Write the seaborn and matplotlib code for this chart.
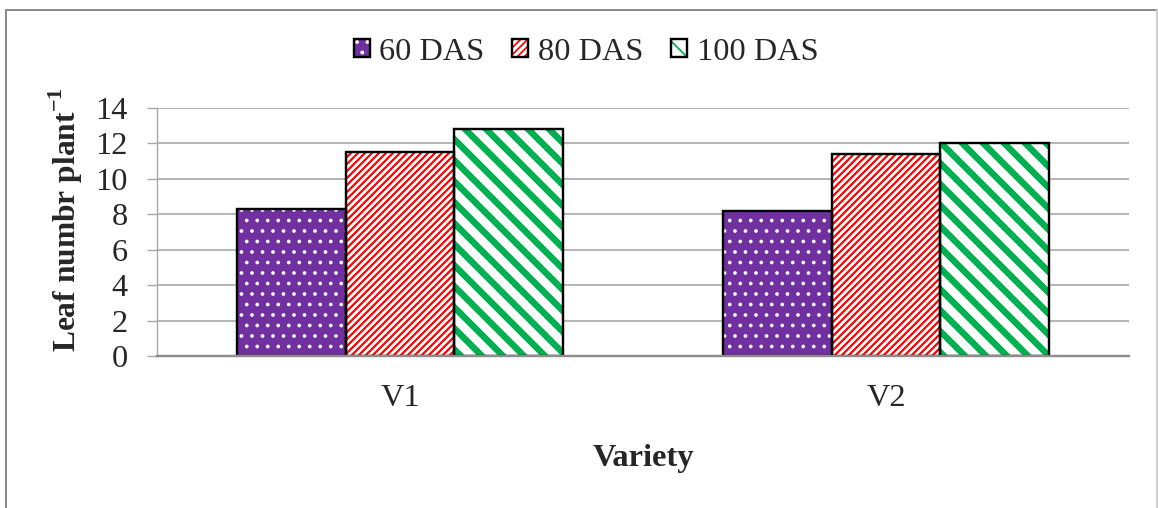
import matplotlib
matplotlib.use("Agg")
import matplotlib.pyplot as plt
import seaborn as sns
import pandas as pd
from matplotlib.patches import Rectangle, Patch
from matplotlib.lines import Line2D

# Leaf number per plant at three growth stages for two varieties
varieties = ["V1", "V2"]
stages = ["60 DAS", "80 DAS", "100 DAS"]
leaf_60 = [8.3, 8.2]
leaf_80 = [11.5, 11.4]
leaf_100 = [12.8, 12.0]
y_ticks = [0, 2, 4, 6, 8, 10, 12, 14]

DPI = 126
W, H = 1158, 508


def px(v):
    """Convert pixels to points at the output resolution."""
    return v * 72.0 / DPI


sns.set_style("white")
plt.rcParams["font.family"] = ["Liberation Serif", "DejaVu Serif"]
plt.rcParams["mathtext.fontset"] = "custom"
plt.rcParams["mathtext.rm"] = "Liberation Serif"
plt.rcParams["mathtext.bf"] = "Liberation Serif:bold"

FS = 18.5
GRID = "#A6A6A6"

df = pd.DataFrame({
    "Variety": varieties * 3,
    "Stage": [s for s in stages for _ in varieties],
    "Leaves": leaf_60 + leaf_80 + leaf_100,
})

# fill colour, hatch colour, hatch pattern, hatch line width (px)
styles = {
    "60 DAS": ("#7030A0", "white", "..", 1.6),
    "80 DAS": ("white", "#FF0000", "//////", 2.2),
    "100 DAS": ("white", "#00B050", "\\\\", 6.5),
}

fig = plt.figure(figsize=(W / DPI, H / DPI), dpi=DPI)
ax = fig.add_axes([157 / W, 1 - 356 / H, (1129 - 157) / W, (356 - 108) / H])

sns.barplot(data=df, x="Variety", y="Leaves", hue="Stage", order=varieties,
            hue_order=stages, palette={s: styles[s][0] for s in stages},
            width=0.67, gap=0, saturation=1, errorbar=None, legend=False, ax=ax)


def set_hatch_lw(patch, lw):
    if hasattr(patch, "set_hatch_linewidth"):
        patch.set_hatch_linewidth(lw)
    else:
        patch._hatch_linewidth = lw


for stage, container in zip(stages, ax.containers):
    fc, hc, hatch, hlw = styles[stage]
    for bar in container:
        bar.set_facecolor(fc)
        bar.set_edgecolor(hc)
        bar.set_hatch(hatch)
        bar.set_linewidth(0)
        set_hatch_lw(bar, px(hlw))
        ax.add_patch(Rectangle(bar.get_xy(), bar.get_width(), bar.get_height(),
                               fill=False, edgecolor="black", linewidth=px(2.4),
                               zorder=bar.get_zorder() + 0.1))

ax.set_ylim(0, 14)
ax.set_yticks(y_ticks)
ax.yaxis.grid(True, color=GRID, linewidth=px(1.6))
ax.set_axisbelow(True)

for side in ("top", "right"):
    ax.spines[side].set_visible(False)
ax.spines["left"].set_color(GRID)
ax.spines["left"].set_linewidth(px(1.4))
ax.spines["bottom"].set_color("#8C8C8C")
ax.spines["bottom"].set_linewidth(px(2.4))

ax.tick_params(axis="y", length=px(10), width=px(1.4), color=GRID,
               direction="out", pad=px(19), labelsize=FS, left=True)
ax.tick_params(axis="x", length=0, pad=px(28), labelsize=FS)

ax.set_xlabel("Variety", fontsize=FS, fontweight="bold")
ax.xaxis.set_label_coords(0.5, -0.355)
ax.set_ylabel(r"Leaf numbr plant$^{\mathbf{-1}}$", fontsize=18, fontweight="bold")
ax.yaxis.set_label_coords((85 - 157) / (1129 - 157), (356 - 220) / (356 - 108))

# Legend with small hatched squares outlined in black
handles = []
for stage in stages:
    fc, hc, hatch, hlw = styles[stage]
    inner = Patch(facecolor=fc, edgecolor=hc, hatch=hatch, linewidth=0)
    set_hatch_lw(inner, px(hlw * 0.7))
    outer = Patch(fill=False, edgecolor="black", linewidth=px(2.4))
    handles.append((inner, outer))
fig.legend(handles, stages, loc="center", bbox_to_anchor=(586 / W, 1 - 52 / H),
           ncol=3, frameon=False, fontsize=FS, handlelength=0.5,
           handleheight=0.5, handletextpad=0.3, columnspacing=0.85)

# Chart-area border
frame = "#8C8C8C"
fig.add_artist(Line2D([6 / W, 6 / W], [0, 1 - 10 / H], color=frame,
                      linewidth=px(2), transform=fig.transFigure))
fig.add_artist(Line2D([6 / W, 1157 / W], [1 - 10 / H, 1 - 10 / H], color=frame,
                      linewidth=px(2), transform=fig.transFigure))
fig.add_artist(Line2D([1157 / W, 1157 / W], [0, 1 - 10 / H], color="#D0D0D0",
                      linewidth=px(2), transform=fig.transFigure))

fig.savefig("out.png", dpi=DPI)
